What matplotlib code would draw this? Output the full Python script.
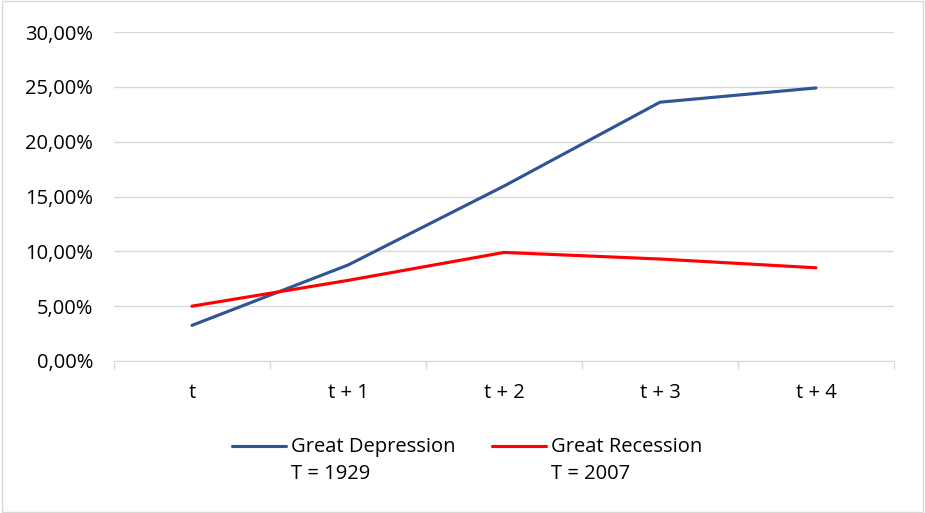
import matplotlib
matplotlib.use("Agg")
import matplotlib.pyplot as plt
from matplotlib.ticker import FuncFormatter, FixedLocator
from matplotlib.legend_handler import HandlerLine2D
import numpy as np

categories = ["t", "t + 1", "t + 2", "t + 3", "t + 4"]
depression = [3.25, 8.75, 15.95, 23.6, 24.9]   # Great Depression, T = 1929 (%)
recession = [5.0, 7.35, 9.9, 9.3, 8.5]          # Great Recession, T = 2007 (%)

plt.rcParams["font.family"] = ["Open Sans", "DejaVu Sans"]
FS = 14.5


class TopLine(HandlerLine2D):
    # put the legend line next to the first text line, not the middle of two
    def create_artists(self, legend, orig_handle, xdescent, ydescent, width, height, fontsize, trans):
        arts = super().create_artists(legend, orig_handle, xdescent, ydescent, width, height, fontsize, trans)
        for a in arts:
            a.set_ydata(np.asarray(a.get_ydata()) + 0.72 * fontsize)
        return arts


fig = plt.figure(figsize=(9.25, 5.13), dpi=100)
ax = fig.add_axes([0.1232, 0.2963, 0.8433, 0.6413])

x = np.arange(len(categories))
ax.plot(x, depression, color="#2F5597", lw=2.25, solid_capstyle="round",
        label="Great Depression\nT = 1929")
ax.plot(x, recession, color="#FF0000", lw=2.25, solid_capstyle="round",
        label="Great Recession\nT = 2007")

ax.set_xlim(-0.5, len(categories) - 0.5)
ax.set_ylim(0, 30)
ax.set_yticks(np.arange(0, 31, 5))
ax.yaxis.set_major_formatter(FuncFormatter(lambda v, p: f"{v:.2f}%".replace(".", ",")))
ax.set_xticks(x)
ax.set_xticklabels(categories)
ax.xaxis.set_minor_locator(FixedLocator(np.arange(-0.5, len(categories), 1)))
ax.tick_params(axis="x", which="major", length=0, pad=16, labelsize=FS, colors="black")
ax.tick_params(axis="x", which="minor", length=6, color="#D9D9D9", width=1)
ax.tick_params(axis="y", length=0, pad=15, labelsize=FS, colors="black")

ax.grid(axis="y", color="#D9D9D9", lw=1)
ax.set_axisbelow(True)
for s in ["top", "right", "left"]:
    ax.spines[s].set_visible(False)
ax.spines["bottom"].set_color("#D9D9D9")

leg = ax.legend(loc="upper center", bbox_to_anchor=(0.453, -0.176), ncol=2, frameon=False,
                fontsize=FS, handlelength=2.68, columnspacing=1.8, handletextpad=0.25,
                handler_map={plt.Line2D: TopLine()})
for t in leg.get_texts():
    t.set_linespacing(1.45)

fig.patches.append(plt.Rectangle((0.002, 0.002), 0.996, 0.996, transform=fig.transFigure,
                                 fill=False, edgecolor="#D9D9D9", lw=1))

fig.savefig("out.png", dpi=100)
